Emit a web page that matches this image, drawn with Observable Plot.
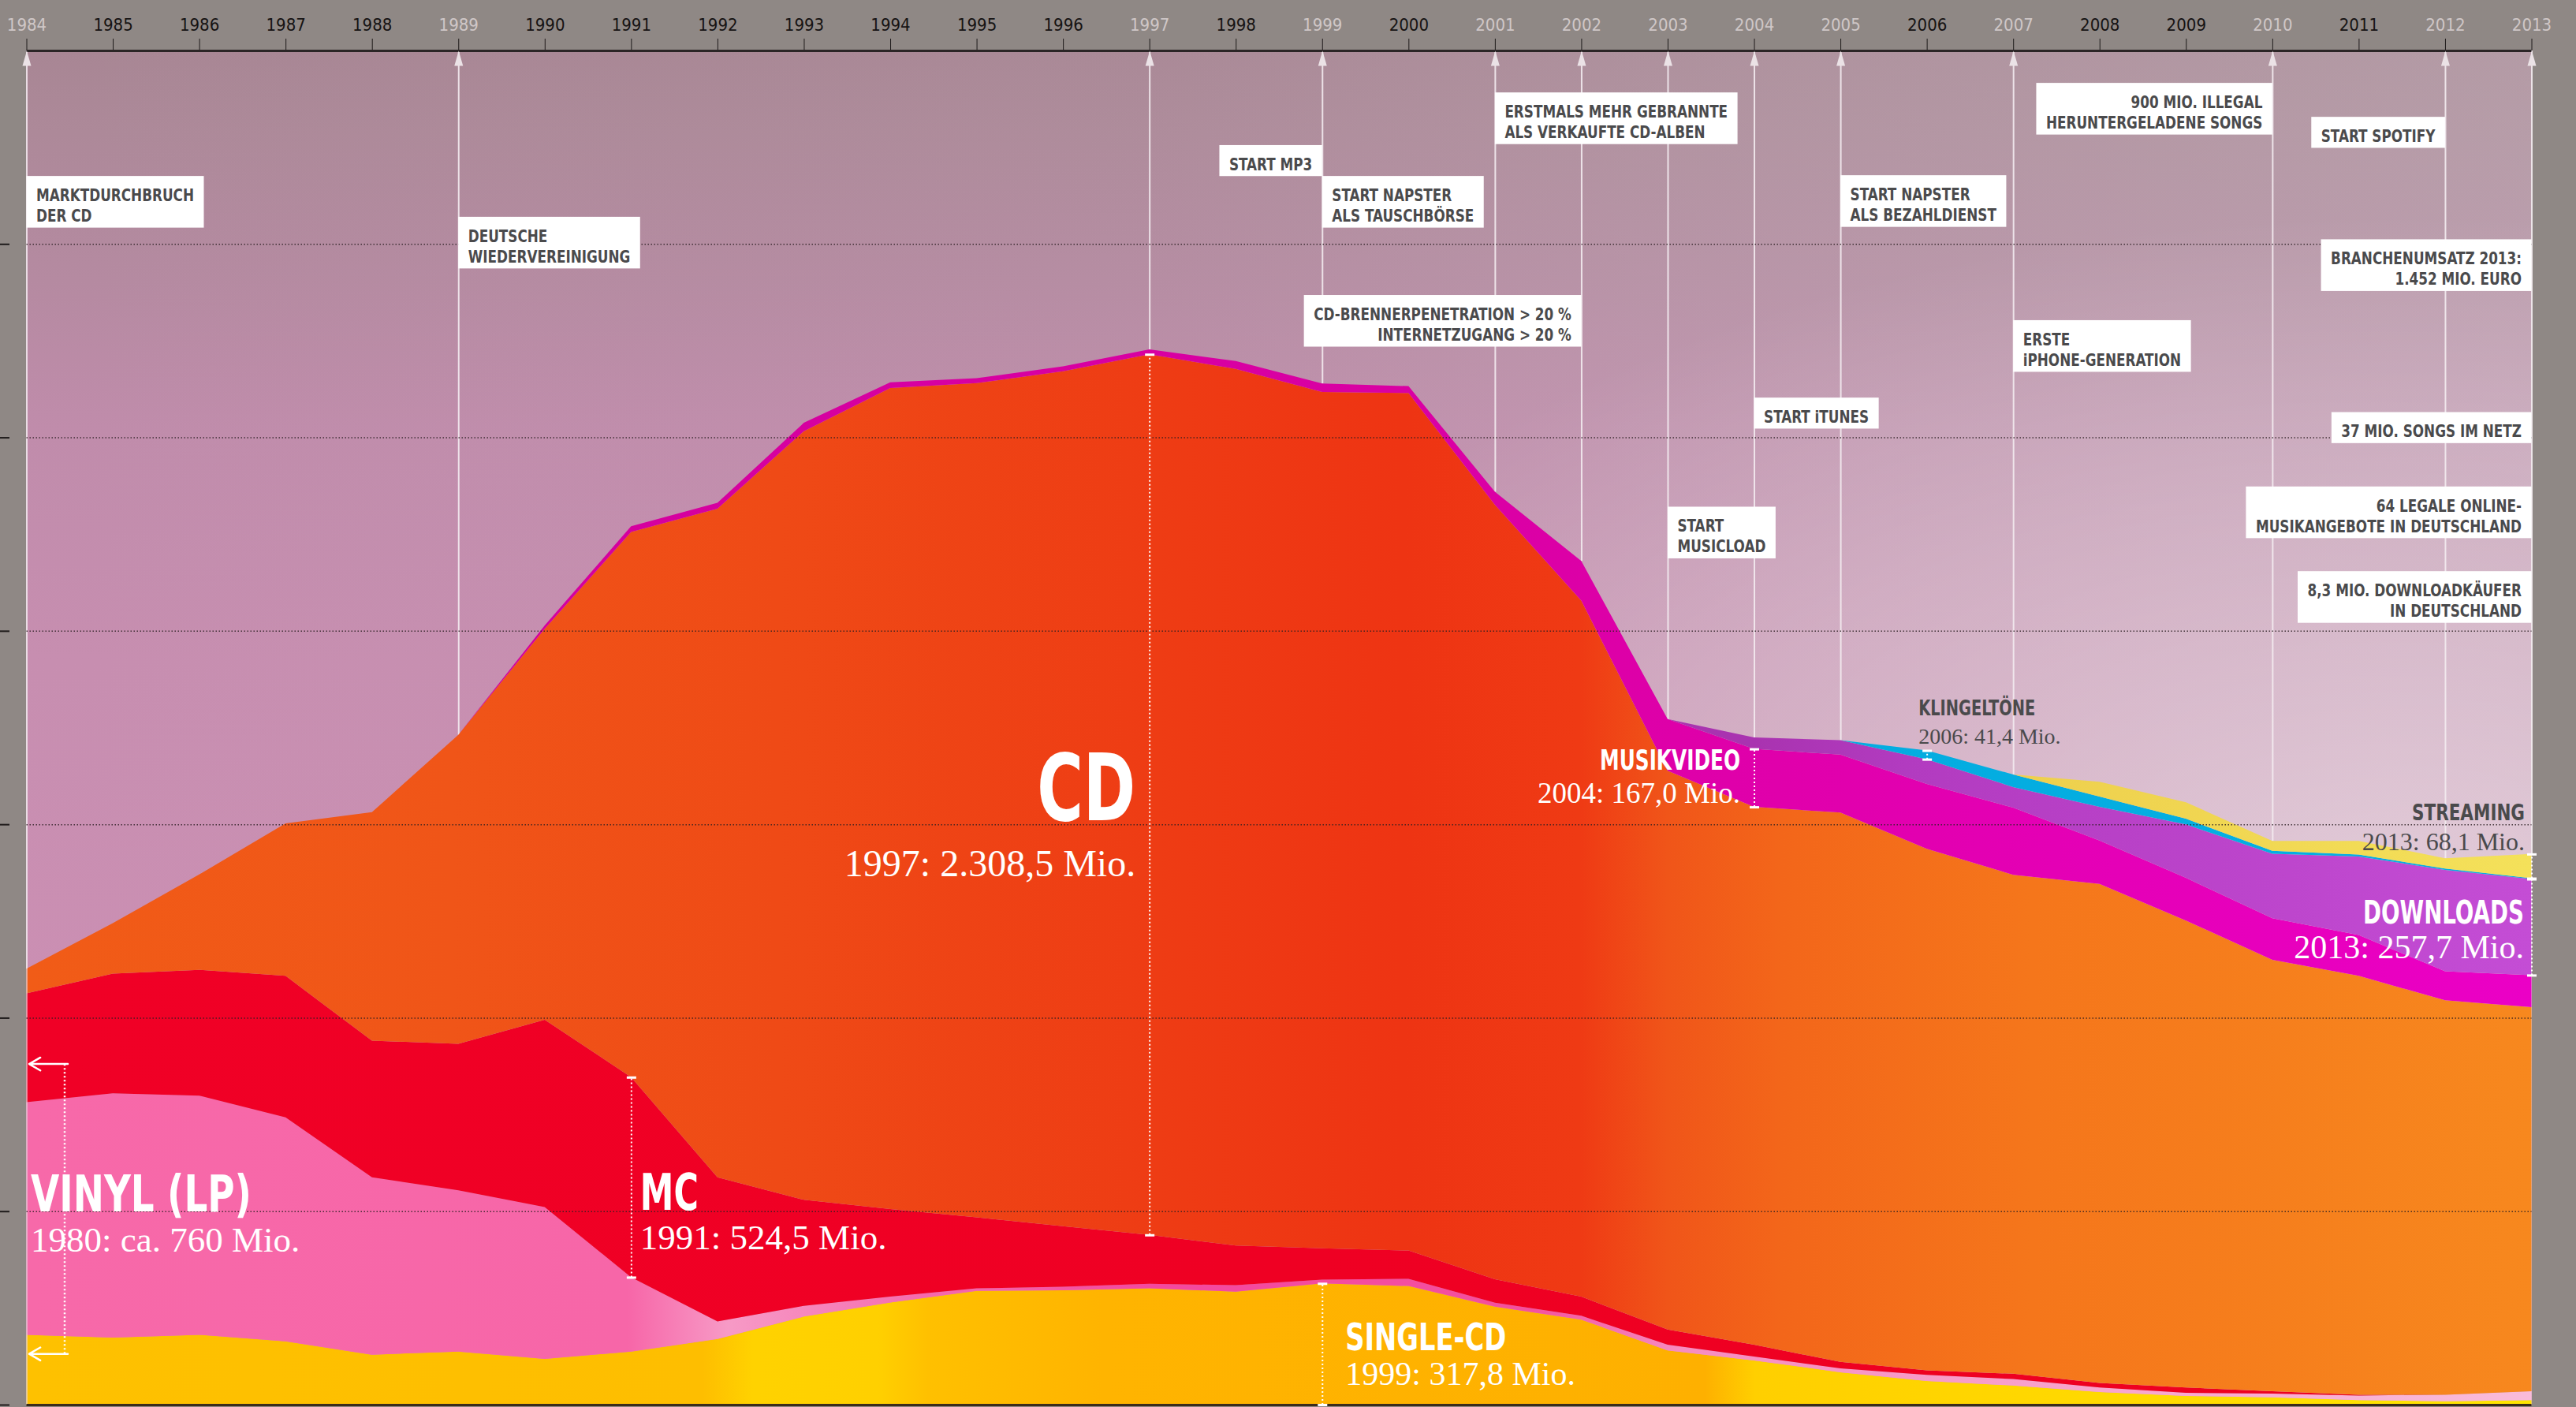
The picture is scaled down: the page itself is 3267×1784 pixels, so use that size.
<!DOCTYPE html>
<html>
<head>
<meta charset="utf-8">
<script src="https://cdn.jsdelivr.net/npm/d3@7"></script>
<script src="https://cdn.jsdelivr.net/npm/@observablehq/plot@0.6"></script>
<style>
  html, body { margin: 0; padding: 0; background: #8f8885; }
  #chart svg { display: block; }
</style>
</head>
<body>
<svg width="0" height="0" style="position:absolute">
  <defs>
    <linearGradient id="bgV" x1="0" y1="0" x2="0" y2="1">
      <stop offset="0" stop-color="#a88694"/>
      <stop offset="0.06" stop-color="#ad8999"/>
      <stop offset="0.17" stop-color="#b58aa1"/>
      <stop offset="0.28" stop-color="#c08cab"/>
      <stop offset="0.45" stop-color="#c78eb0"/>
      <stop offset="0.7" stop-color="#cb8fb3"/>
      <stop offset="1" stop-color="#d08eb5"/>
    </linearGradient>
    <linearGradient id="bgH" x1="0" y1="0" x2="1" y2="0">
      <stop offset="0" stop-color="#c8c0c4" stop-opacity="0"/>
      <stop offset="0.45" stop-color="#c8c0c4" stop-opacity="0.06"/>
      <stop offset="0.7" stop-color="#c8c0c4" stop-opacity="0.22"/>
      <stop offset="1" stop-color="#c8c0c4" stop-opacity="0.36"/>
    </linearGradient>
    <radialGradient id="bgR" cx="0.95" cy="0.62" r="0.5">
      <stop offset="0" stop-color="#ffffff" stop-opacity="0.45"/>
      <stop offset="0.6" stop-color="#ffffff" stop-opacity="0.2"/>
      <stop offset="1" stop-color="#ffffff" stop-opacity="0"/>
    </radialGradient>
    <linearGradient id="gSingles" x1="0" y1="0" x2="1" y2="0">
      <stop offset="0" stop-color="#fec100"/>
      <stop offset="0.27" stop-color="#febe00"/>
      <stop offset="0.29" stop-color="#ffd200"/>
      <stop offset="0.34" stop-color="#ffd000"/>
      <stop offset="0.36" stop-color="#ffc000"/>
      <stop offset="0.43" stop-color="#ffb400"/>
      <stop offset="0.67" stop-color="#feb000"/>
      <stop offset="0.69" stop-color="#ffcf00"/>
      <stop offset="0.85" stop-color="#ffdb00"/>
      <stop offset="1" stop-color="#ffe400"/>
    </linearGradient>
    <linearGradient id="gVinyl" x1="0" y1="0" x2="1" y2="0">
      <stop offset="0" stop-color="#f769a9"/>
      <stop offset="0.24" stop-color="#f766a8"/>
      <stop offset="0.28" stop-color="#f79ac6"/>
      <stop offset="0.36" stop-color="#f56aae"/>
      <stop offset="0.45" stop-color="#f4489f"/>
      <stop offset="0.6" stop-color="#f4509f"/>
      <stop offset="0.66" stop-color="#f78cc0"/>
      <stop offset="0.85" stop-color="#f8a8cf"/>
      <stop offset="1" stop-color="#f9bbd9"/>
    </linearGradient>
    <linearGradient id="gMC" x1="0" y1="0" x2="1" y2="0">
      <stop offset="0" stop-color="#f00026"/>
      <stop offset="1" stop-color="#ee0020"/>
    </linearGradient>
    <linearGradient id="gCD" x1="0" y1="0" x2="1" y2="0">
      <stop offset="0" stop-color="#f15c17"/>
      <stop offset="0.17" stop-color="#f05518"/>
      <stop offset="0.3" stop-color="#ef4a16"/>
      <stop offset="0.45" stop-color="#ee3c14"/>
      <stop offset="0.55" stop-color="#ee3413"/>
      <stop offset="0.62" stop-color="#ef3a14"/>
      <stop offset="0.655" stop-color="#f05519"/>
      <stop offset="0.7" stop-color="#f3661a"/>
      <stop offset="0.8" stop-color="#f5761b"/>
      <stop offset="1" stop-color="#f7881e"/>
    </linearGradient>
    <linearGradient id="gVideo" x1="0" y1="0" x2="1" y2="0">
      <stop offset="0" stop-color="#d2009c"/>
      <stop offset="0.55" stop-color="#d900a3"/>
      <stop offset="0.7" stop-color="#e000ab"/>
      <stop offset="1" stop-color="#eb00c6"/>
    </linearGradient>
    <linearGradient id="gDownloads" x1="0" y1="0" x2="1" y2="0">
      <stop offset="0.69" stop-color="#a933b0"/>
      <stop offset="0.75" stop-color="#b23bc0"/>
      <stop offset="1" stop-color="#c44dd5"/>
    </linearGradient>
    <linearGradient id="gRing" x1="0" y1="0" x2="1" y2="0">
      <stop offset="0" stop-color="#00a2dc"/>
      <stop offset="1" stop-color="#05b0e2"/>
    </linearGradient>
    <linearGradient id="gStream" x1="0" y1="0" x2="1" y2="0">
      <stop offset="0.8" stop-color="#eed04d"/>
      <stop offset="1" stop-color="#f4e15a"/>
    </linearGradient>
  </defs>
</svg>
<div id="chart"></div>
<script>
// ---------------- DATA (Mio.) ----------------
const years = [1984,1985,1986,1987,1988,1989,1990,1991,1992,1993,1994,1995,1996,1997,1998,1999,2000,2001,2002,2003,2004,2005,2006,2007,2008,2009,2010,2011,2012,2013];
const singles   = [183,176,183,166,131,139,120,139,172,231, 268,298,300,305,296,317.8,311,257,223,142, 116,85,62,50,33,23,19,12,9,12];
const vinyl     = [610,640,627,587,465,423,398,195,46,28, 15,7,9,12,17,10,19,10,10,15, 10,10,16,17,12,8,10,12,17,23];
const mc        = [285,314,330,371,358,384,491,524.5,378,278, 230,186,159,128,104,82,74,62,50,40, 31,17,12,14,12,14,6,2,0,0];
const cd        = [65,132,250,400,599,810,1025,1429,1753,2015, 2152,2187,2241,2308.5,2298,2245,2248,2030,1825,1465, 1410,1440,1367,1308,1308,1224,1131,1098,1034,1007];
const video     = [0,0,0,0,0,0,9,15,15,22, 15,13,13,13,21,22,18,34,104,135, 152,152,170,176,114,112,109,107,76,84];
const downloads = [0,0,0,0,0,0,0,0,0,0, 0,0,0,0,0,0,0,0,0,0, 30,38,65,54,88,140,169,206,266,252];
const ringtones = [0,0,0,0,0,0,0,0,0,0, 0,0,0,0,0,0,0,0,0,0, 0,0,23,33,27,15,8,5,3.5,2];
const streaming = [0,0,0,0,0,0,0,0,0,0, 0,0,0,0,0,0,0,0,0,0, 0,0,0,0,39,43,26,36,27,63.5];

const layerKeys = ["singles","vinyl","mc","cd","video","downloads","ringtones","streaming"];
const eventYears = [1984,1989,1997,1999,2001,2002,2003,2004,2005,2007,2010,2012,2013];

const notes = [
  {year:1984, side:"right", top:3221, lines:["MARKTDURCHBRUCH","DER CD"]},
  {year:1989, side:"right", top:3114, lines:["DEUTSCHE","WIEDERVEREINIGUNG"]},
  {year:1999, side:"left",  top:3302, lines:["START MP3"]},
  {year:1999, side:"right", top:3221, lines:["START NAPSTER","ALS TAUSCHBÖRSE"]},
  {year:2001, side:"right", top:3440, lines:["ERSTMALS MEHR GEBRANNTE","ALS VERKAUFTE CD-ALBEN"]},
  {year:2002, side:"left",  top:2909, lines:["CD-BRENNERPENETRATION > 20 %","INTERNETZUGANG > 20 %"]},
  {year:2005, side:"right", top:3223, lines:["START NAPSTER","ALS BEZAHLDIENST"]},
  {year:2010, side:"left",  top:3465, lines:["900 MIO. ILLEGAL","HERUNTERGELADENE SONGS"]},
  {year:2012, side:"left",  top:3376, lines:["START SPOTIFY"]},
  {year:2013, side:"left",  top:3055, lines:["BRANCHENUMSATZ 2013:","1.452 MIO. EURO"]},
  {year:2007, side:"right", top:2843, lines:["ERSTE","iPHONE-GENERATION"]},
  {year:2004, side:"right", top:2640, lines:["START iTUNES"]},
  {year:2013, side:"left",  top:2602, lines:["37 MIO. SONGS IM NETZ"]},
  {year:2013, side:"left",  top:2407, lines:["64 LEGALE ONLINE-","MUSIKANGEBOTE IN DEUTSCHLAND"]},
  {year:2013, side:"left",  top:2185, lines:["8,3 MIO. DOWNLOADKÄUFER","IN DEUTSCHLAND"]},
  {year:2003, side:"right", top:2354, lines:["START","MUSICLOAD"]}
];

const seriesLabels = [
  {year:1984, dx:5,   anchor:"start", name:"VINYL (LP)",  nameY:550,  nameSize:64,  nameWidth:280, value:"1980: ca. 760 Mio.", valueY:432,  valueSize:45, color:"#ffffff"},
  {year:1991, dx:11,  anchor:"start", name:"MC",          nameY:555,  nameSize:64,  nameWidth:74,  value:"1991: 524,5 Mio.",   valueY:439,  valueSize:45, color:"#ffffff"},
  {year:1997, dx:-18, anchor:"end",   name:"CD",          nameY:1611, nameSize:118, nameWidth:125, value:"1997: 2.308,5 Mio.", valueY:1418, valueSize:48, color:"#ffffff"},
  {year:2004, dx:-18, anchor:"end",   name:"MUSIKVIDEO",  nameY:1689, nameSize:36,  nameWidth:178, value:"2004: 167,0 Mio.",   valueY:1604, valueSize:37, color:"#ffffff"},
  {year:1999, dx:29,  anchor:"start", name:"SINGLE-CD",   nameY:176,  nameSize:48,  nameWidth:204, value:"1999: 317,8 Mio.",   valueY:81,   valueSize:42, color:"#ffffff"},
  {year:2006, dx:-11, anchor:"start", name:"KLINGELTÖNE", nameY:1826, nameSize:26,  nameWidth:148, value:"2006: 41,4 Mio.",    valueY:1753, valueSize:28, color:"#4a4a4c"},
  {year:2013, dx:-9,  anchor:"end",   name:"STREAMING",   nameY:1552, nameSize:29,  nameWidth:143, value:"2013: 68,1 Mio.",    valueY:1475, valueSize:32, color:"#4a4a4c"},
  {year:2013, dx:-10, anchor:"end",   name:"DOWNLOADS",   nameY:1289, nameSize:41,  nameWidth:204, value:"2013: 257,7 Mio.",   valueY:1199, valueSize:42, color:"#ffffff"}
];
const vinyl1980 = 760;   // value of the bracket at the left edge
const vinylBracketBase = 134;

// ---------------- LAYOUT ----------------
const W = 3267, H = 1784, ML = 33.5, MR = 56.5, MT = 64, MB = 3;
const Y_MAX = 3550;
const NOTE_SQUEEZE = 0.89;
const NARROW = '"Liberation Sans Narrow", "DejaVu Sans Condensed", "Roboto Condensed", sans-serif';
const SERIF = '"Liberation Serif", "DejaVu Serif", serif';

const series = {singles, vinyl, mc, cd, video, downloads, ringtones, streaming};
const fills = {singles:"url(#gSingles)", vinyl:"url(#gVinyl)", mc:"url(#gMC)", cd:"url(#gCD)",
  video:"url(#gVideo)", downloads:"url(#gDownloads)", ringtones:"url(#gRing)", streaming:"url(#gStream)"};
const long = layerKeys.flatMap(k => years.map((yr, i) => ({year: yr, layer: k, value: series[k][i]})));

function cumTop(key, yr) {
  const i = years.indexOf(yr);
  let s = 0;
  for (const k of layerKeys) { s += series[k][i]; if (k === key) break; }
  return s;
}
const total = yr => cumTop("streaming", yr);

const brackets = [
  {year:1991, lo: cumTop("vinyl",1991), hi: cumTop("mc",1991)},
  {year:1997, lo: cumTop("mc",1997), hi: cumTop("cd",1997)},
  {year:1999, lo: 0, hi: cumTop("singles",1999)},
  {year:2004, lo: cumTop("cd",2004), hi: cumTop("video",2004)},
  {year:2006, lo: cumTop("downloads",2006), hi: cumTop("ringtones",2006)},
  {year:2013, lo: cumTop("video",2013), hi: cumTop("downloads",2013)},
  {year:2013, lo: cumTop("ringtones",2013), hi: cumTop("streaming",2013)}
];
const caps = brackets.flatMap(b => [{year:b.year, v:b.lo}, {year:b.year, v:b.hi}]);

const xs = Plot.scale({x: {domain: [1984, 2013], range: [ML, W - MR]}});
const ys = Plot.scale({y: {domain: [0, Y_MAX], range: [H - MB, MT]}});

const ctx = document.createElement("canvas").getContext("2d");
ctx.font = `bold 21px ${NARROW}`;
const boxes = notes.map(n => {
  const w = Math.max(...n.lines.map(l => ctx.measureText(l).width)) * NOTE_SQUEEZE + 25;
  const h = n.lines.length > 1 ? 65.5 : 39.3;
  const px = xs.apply(n.year);
  const other = xs.invert(n.side === "right" ? px + w : px - w);
  return {...n, x1: Math.min(n.year, other), x2: Math.max(n.year, other),
    y1: n.top, y2: ys.invert(ys.apply(n.top) + h), text: n.lines.join("\n")};
});

const vx0 = xs.invert(xs.apply(1984) + 48);   // dotted line of the vinyl bracket
const vinylArrows = [vinylBracketBase, vinylBracketBase + vinyl1980].map(v => ({
  x1: xs.invert(xs.apply(1984) + 52), x2: xs.invert(xs.apply(1984) + 3), v}));

const gridVals = [1,2,3,4,5,6].map(n => Y_MAX * n / 7);
const tickVals = [0,1,2,3,4,5,6].map(n => Y_MAX * n / 7);

const hbar = {draw(c, size) { const r = Math.sqrt(size / Math.PI); c.moveTo(-r, 0); c.lineTo(r, 0); }};
const spike = {draw(c) { c.moveTo(0, -10); c.lineTo(5.5, 9); c.lineTo(-5.5, 9); c.closePath(); }};

const labelMarks = seriesLabels.flatMap(l => [
  Plot.text([l], {x: "year", y: "nameY", text: "name", dx: l.dx, textAnchor: l.anchor, lineAnchor: "middle",
    fontSize: l.nameSize, fontWeight: "bold", fontFamily: NARROW, fill: l.color}),
  Plot.text([l], {x: "year", y: "valueY", text: "value", dx: l.dx, textAnchor: l.anchor, lineAnchor: "middle",
    fontSize: l.valueSize, fontFamily: SERIF, fill: l.color})
]);

const plot = Plot.plot({
  width: W, height: H,
  marginLeft: ML, marginRight: MR, marginTop: MT, marginBottom: MB,
  style: {background: "transparent", color: "#1e1a1a", overflow: "visible"},
  x: {domain: [1984, 2013], axis: "top", ticks: years, tickSize: 16, tickFormat: () => "", label: null},
  y: {domain: [0, Y_MAX], axis: null},
  color: {type: "identity"},
  marks: [
    Plot.frame({fill: "url(#bgV)", stroke: "none"}),
    Plot.frame({fill: "url(#bgH)", stroke: "none"}),
    Plot.frame({fill: "url(#bgR)", stroke: "none"}),
    Plot.ruleX(eventYears, {x: d => d, y1: d => total(d), y2: Y_MAX, stroke: "#f3ebef", strokeWidth: 2, strokeOpacity: 0.9}),
    Plot.areaY(long, {x: "year", y: "value", z: "layer", fill: d => fills[d.layer], order: layerKeys, curve: "linear"}),
    Plot.ruleX([1984], {stroke: "#ead9e2", strokeWidth: 2, strokeOpacity: 0.6}),
    Plot.ruleY(gridVals, {stroke: "#2a1f22", strokeWidth: 1.5, strokeDasharray: "1.5 2.5", strokeOpacity: 0.85}),
    Plot.ruleY([Y_MAX], {stroke: "#2b2526", strokeWidth: 3}),
    Plot.ruleY([0], {stroke: "#3b2c1c", strokeWidth: 3}),
    Plot.tickY(tickVals, {y: d => d, stroke: "#1e1a1a", strokeWidth: 2, insetLeft: -ML, insetRight: (W - MR) - 12}),
    Plot.dot(eventYears, {x: d => d, frameAnchor: "top", dy: 10, symbol: spike, fill: "#ebe2e6", stroke: "none"}),
    // brackets
    Plot.ruleX(brackets, {x: "year", y1: "lo", y2: "hi", stroke: "#ffffff", strokeWidth: 2, strokeDasharray: "2 3"}),
    Plot.dot(caps, {x: "year", y: "v", symbol: hbar, r: 6, stroke: "#ffffff", strokeWidth: 3}),
    Plot.ruleX([{x: vx0, y1: vinylBracketBase, y2: vinylBracketBase + vinyl1980}], {x: "x", y1: "y1", y2: "y2", stroke: "#ffffff", strokeWidth: 2.5, strokeDasharray: "2 3"}),
    Plot.arrow(vinylArrows, {x1: "x1", x2: "x2", y1: "v", y2: "v", stroke: "#ffffff", strokeWidth: 2.5, headLength: 14, headAngle: 60}),
    ...labelMarks,
    // annotation boxes
    Plot.rect(boxes, {x1: "x1", x2: "x2", y1: "y1", y2: "y2", fill: "#ffffff"}),
    Plot.text(boxes.filter(b => b.side === "right"), {x: "year", y: "top", text: "text", dx: 12, dy: 13,
      textAnchor: "start", lineAnchor: "top", lineHeight: 1.238, fontSize: 21, fontWeight: "bold", fontFamily: NARROW, fill: "#4a4a4c"}),
    Plot.text(boxes.filter(b => b.side === "left"), {x: "year", y: "top", text: "text", dx: -13, dy: 13,
      textAnchor: "end", lineAnchor: "top", lineHeight: 1.238, fontSize: 21, fontWeight: "bold", fontFamily: NARROW, fill: "#4a4a4c"}),
    // year labels
    Plot.text(years, {x: d => d, frameAnchor: "top", dy: -41, text: d => String(d),
      fill: d => eventYears.includes(d) ? "#cfc7c7" : "#161313", fontSize: 22, fontFamily: NARROW})
  ]
});
document.getElementById("chart").append(plot);

// condense the bold sans labels to the widths of the original narrow typeface
const nameWidth = new Map(seriesLabels.map(l => [l.name, l.nameWidth]));
const noteLines = new Set(notes.flatMap(n => n.lines));
plot.querySelectorAll("text, tspan").forEach(el => {
  if (el.tagName.toLowerCase() === "text" && el.querySelector("tspan")) return;
  const t = el.textContent;
  if (nameWidth.has(t)) {
    el.setAttribute("textLength", nameWidth.get(t));
    el.setAttribute("lengthAdjust", "spacingAndGlyphs");
  } else if (noteLines.has(t)) {
    const L = el.getComputedTextLength();
    el.setAttribute("textLength", L * NOTE_SQUEEZE);
    el.setAttribute("lengthAdjust", "spacingAndGlyphs");
  }
});
</script>
</body>
</html>
